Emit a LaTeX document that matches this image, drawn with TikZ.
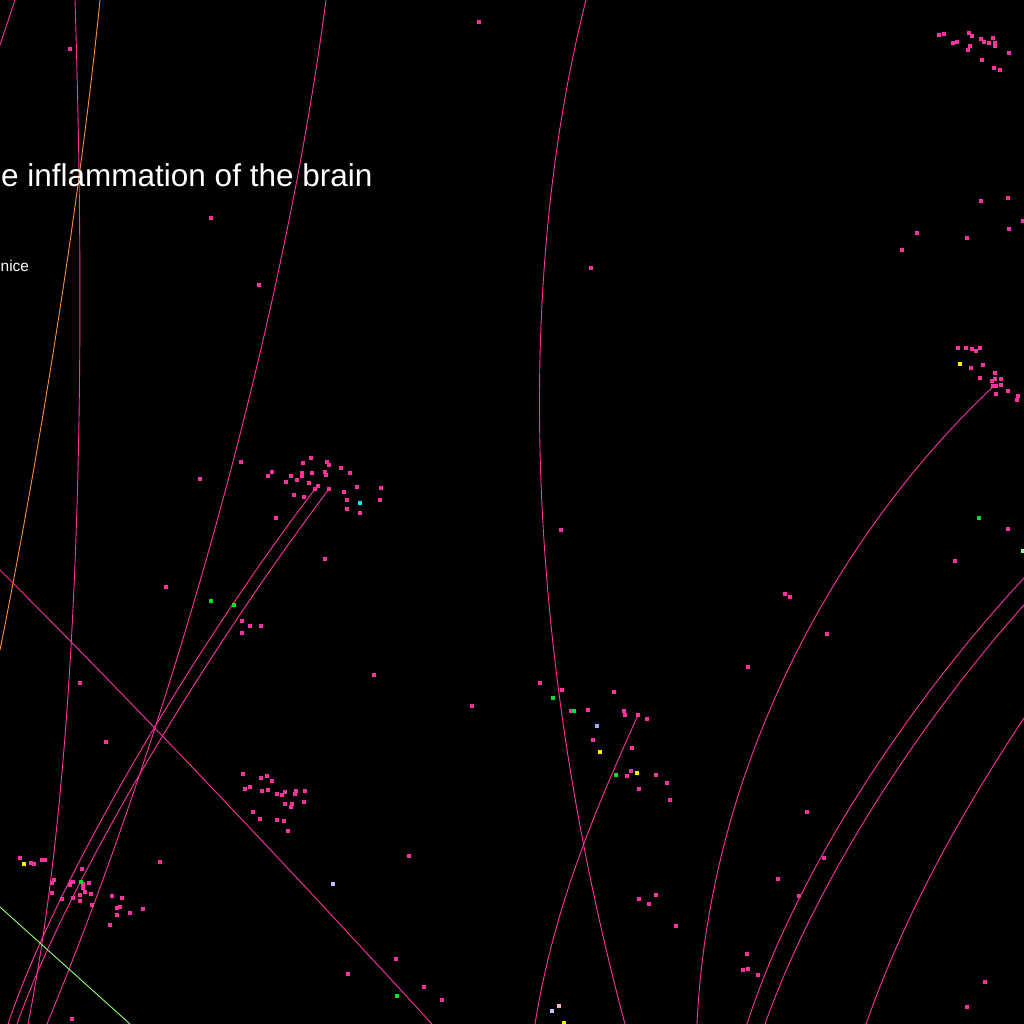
\documentclass[tikz,border=0pt]{standalone}
\usepackage{fontspec}
\setmainfont{Liberation Sans}
\usepackage{tikz}

\definecolor{hotpink}{RGB}{255,51,160}
\definecolor{linkorange}{RGB}{255,140,50}
\definecolor{linklime}{RGB}{150,255,120}
\definecolor{spotgreen}{RGB}{0,225,40}
\definecolor{spotyellow}{RGB}{255,240,0}
\definecolor{spotcyan}{RGB}{0,230,255}
\definecolor{spotblue}{RGB}{150,180,255}
\definecolor{spotlilac}{RGB}{190,190,255}
\definecolor{spotrose}{RGB}{255,170,200}
\definecolor{spotmint}{RGB}{150,255,150}

\begin{document}
\begin{tikzpicture}[x=1pt,y=-1pt]
\tikzstyle{link}=[draw=hotpink,line width=0.9pt]
\tikzstyle{headline}=[text=white,inner sep=0pt,font=\fontsize{31.5}{36}\selectfont]
\tikzstyle{subline}=[text=white,inner sep=0pt,font=\fontsize{15.4}{18}\selectfont]
\useasboundingbox (0,0) rectangle (1024,1024);
\fill [black] (0,0) rectangle (1024,1024);
\clip (0,0) rectangle (1024,1024);
% links
\draw [link] (0,45) -- (15,0);
\draw [link] (75,0) .. controls (86,350) and (82,750) .. (28,1024);
\draw [link,draw=linkorange] (100,0) .. controls (80,200) and (40,450) .. (0,650);
\draw [link] (326,0) .. controls (280,350) and (160,750) .. (47,1024);
\draw [link] (315,489) .. controls (200,640) and (60,870) .. (8,1024);
\draw [link] (329,489) .. controls (215,640) and (72,870) .. (17,1024);
\draw [link] (0,570) .. controls (150,720) and (300,880) .. (432,1024);
\draw [link,draw=linklime] (0,907) -- (130,1024);
\draw [link] (586,0) .. controls (510,300) and (530,670) .. (625,1024);
\draw [link] (638,715) .. controls (600,800) and (555,900) .. (535,1024);
\draw [link] (995,385) .. controls (850,520) and (710,750) .. (697,1024);
\draw [link] (1024,578) .. controls (920,690) and (800,860) .. (747,1024);
\draw [link] (1024,605) .. controls (930,710) and (820,870) .. (765,1024);
\draw [link] (1024,718) .. controls (970,800) and (910,900) .. (866,1024);
% spots
\foreach \x/\y in {479/22,70/49,939/35,944/34,969/33,972/36,953/43,957/42,970/46,968/50,981/39,984/42,989/43,993/38,995/43,995/46,1009/53,982/60,994/68,1000/70,
1008/198,981/201,917/233,967/238,1009/229,902/250,1023/221,211/218,259/285,591/268,
241/462,272/472,268/476,286/482,291/476,297/480,302/476,302/473,303/463,311/458,312/473,309/483,318/486,315/489,325/472,327/462,329/465,326/475,329/489,341/468,350/473,344/492,357/487,294/495,304/497,347/500,381/488,380/500,347/509,360/513,276/518,
200/479,325/559,166/587,242/621,250/626,261/626,242/633,561/530,80/683,106/742,374/675,472/706,
958/348,966/348,972/349,976/351,980/348,971/368,983/365,980/378,995/373,992/381,995/379,1001/379,993/386,996/386,1001/385,1008/391,996/394,1018/396,1017/400,
1008/529,955/561,748/667,785/594,790/597,827/634,807/812,
540/683,562/690,614/692,571/711,588/710,624/711,625/715,638/715,647/719,593/740,632/748,627/776,631/771,639/789,656/775,667/783,670/800,
243/774,261/778,267/776,272/781,245/789,250/787,262/791,268/790,277/794,282/795,285/792,296/791,295/794,305/791,304/802,285/804,292/804,291/807,253/812,260/819,277/820,284/821,288/831,409/856,
20/858,31/863,34/864,42/860,45/860,160/862,82/869,54/880,52/883,71/882,73/882,83/884,89/883,70/885,83/888,52/893,85/892,80/895,91/894,62/899,73/898,80/901,92/905,112/896,122/898,117/908,120/907,130/913,143/909,117/915,110/925,72/1019,
824/858,778/879,799/896,747/954,743/970,748/969,758/975,985/982,967/1007,676/926,639/899,656/895,649/904,
396/959,348/974,424/987,442/1000}
  \fill [hotpink] (\x-1.6,\y-1.6) rectangle (\x+1.6,\y+1.6);
\foreach \x/\y in {211/601,234/605,81/882,553/698,574/711,616/775,979/518,397/996}
  \fill [spotgreen] (\x-1.6,\y-1.6) rectangle (\x+1.6,\y+1.6);
\foreach \x/\y in {24/864,600/752,637/773,960/364,564/1023}
  \fill [spotyellow] (\x-1.6,\y-1.6) rectangle (\x+1.6,\y+1.6);
\fill [spotcyan] (358.4,501.4) rectangle (361.6,504.6);
\fill [spotblue] (595.4,724.4) rectangle (598.6,727.6);
\fill [spotlilac] (331.4,882.4) rectangle (334.6,885.6);
\fill [spotlilac] (550.4,1009.4) rectangle (553.6,1012.6);
\fill [spotrose] (557.4,1004.4) rectangle (560.6,1007.6);
\fill [spotmint] (1021.4,549.4) rectangle (1024.6,552.6);
% texts
\node [headline,anchor=base west] (headline) at (1,187) {e inflammation of the brain};
\node [subline,anchor=base west] (subline) at (0.5,271) {nice};
\end{tikzpicture}
\end{document}
